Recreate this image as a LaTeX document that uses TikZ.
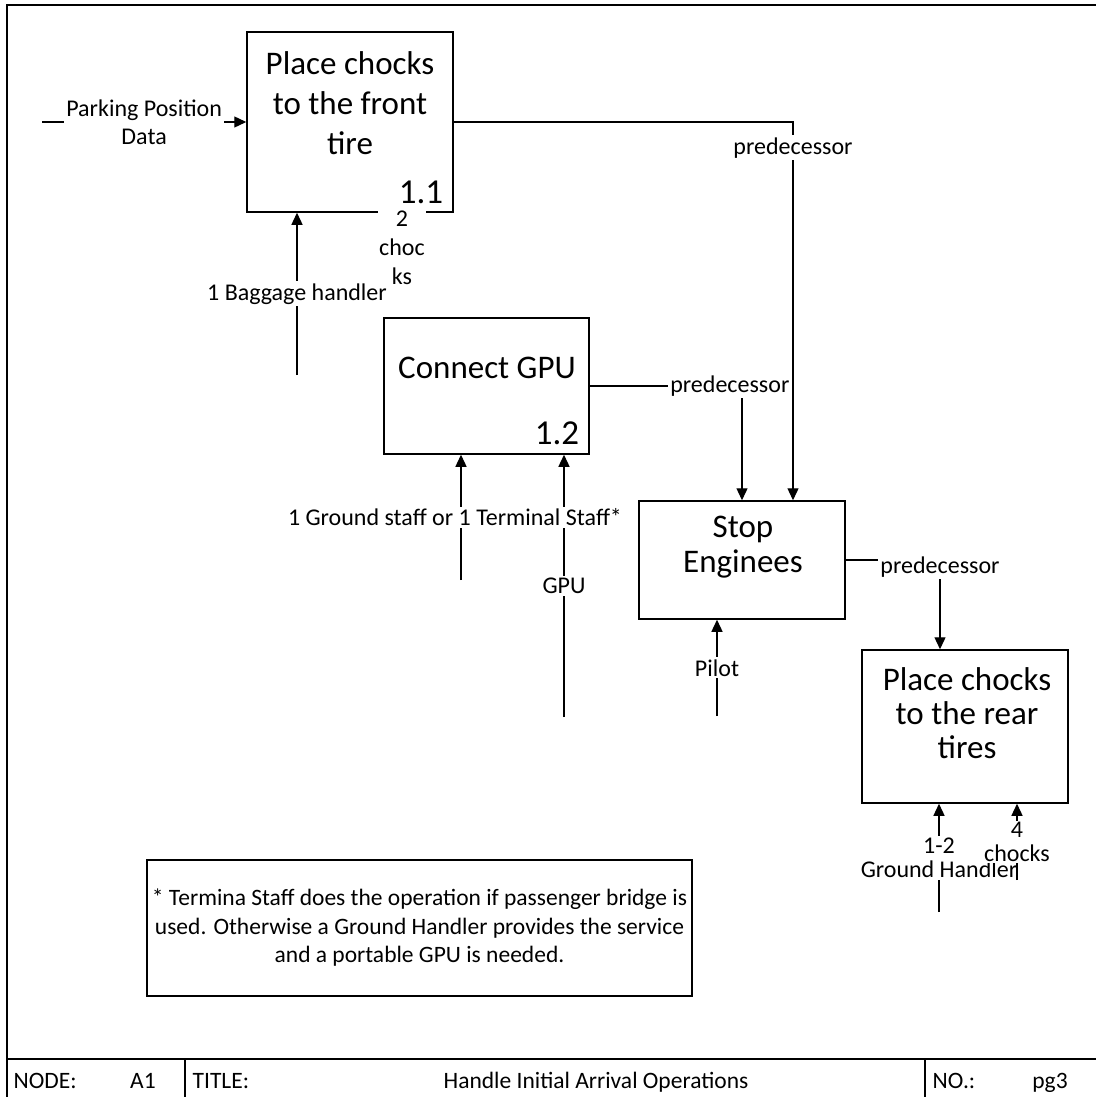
\documentclass[tikz,border=0pt]{standalone}
\usepackage{fontspec}
\setmainfont{Carlito}
\usetikzlibrary{arrows.meta}
\begin{document}
\begin{tikzpicture}[x=1pt, y=-1pt, >={Triangle[length=12pt,width=11pt]}, line width=1.3pt,
        every node/.style={font=\fontsize{24}{28}\selectfont},
        procbox/.style={draw, line width=1.5pt, inner sep=0pt},
        boxtext/.style={align=center, inner sep=0pt, font=\fontsize{33}{40}\selectfont},
        boxnum/.style={anchor=base east, inner sep=0pt, font=\fontsize{35}{35}\selectfont},
        flowlbl/.style={fill=white, align=center, inner sep=2pt},
        footlbl/.style={anchor=base, inner sep=0pt, font=\fontsize{23.5}{28}\selectfont}]
        \useasboundingbox (0,0) rectangle (1095,1097);
        % frame and footer
        \draw (7,5) rectangle (1110,1110);
        \draw (7,1059) -- (1110,1059);
        \draw (185,1059) -- (185,1110);
        \draw (925,1059) -- (925,1110);
        \node[footlbl, anchor=base west] (fnode) at (13,1088) {NODE:};
        \node[footlbl] (fnodeval) at (143,1088) {A1};
        \node[footlbl, anchor=base west] (ftitle) at (192,1088) {TITLE:};
        \node[footlbl] (ftitleval) at (596,1088) {Handle Initial Arrival Operations};
        \node[footlbl, anchor=base west] (fno) at (932,1088) {NO.:};
        \node[footlbl] (fnoval) at (1050,1088) {pg3};
        % activity boxes
        \node[procbox, minimum width=206, minimum height=180] (front) at (350,122) {};
        \node[boxtext] (frontT) at (350,103) {Place chocks\\to the front\\tire};
        \node[boxnum] (frontN) at ([xshift=-10pt,yshift=9pt]front.south east) {1.1};
        \node[procbox, minimum width=205, minimum height=136] (gpu) at (486.5,386) {};
        \node[boxtext] (gpuT) at (487,368) {Connect GPU};
        \node[boxnum] (gpuN) at ([xshift=-10pt,yshift=10pt]gpu.south east) {1.2};
        \node[procbox, minimum width=206, minimum height=118] (stop) at (742,560) {};
        \node[boxtext, font=\fontsize{33}{35}\selectfont] (stopT) at (743,547) {Stop\\Enginees};
        \node[procbox, minimum width=206, minimum height=153] (rear) at (965,726.5) {};
        \node[boxtext, font=\fontsize{33}{34}\selectfont] (rearT) at (967,713) {Place chocks\\to the rear\\tires};
        \node[draw, line width=1.5pt, minimum width=545, minimum height=136, align=center,
            font=\fontsize{23.5}{28.5}\selectfont] (note) at (419.5,928)
            {* Termina Staff does the operation if passenger bridge is\\used. Otherwise a Ground Handler provides the service\\and a portable GPU is needed.};
        % inputs
        \coordinate (parkin) at (42,122);
        \coordinate (bagin) at (297,375);
        \coordinate (gsin) at (461,580);
        \coordinate (gpuin) at (564,717);
        \coordinate (pilotin) at (717,716);
        \coordinate (ghin) at (939,912);
        \coordinate (chin) at (1017,880);
        \draw[->] (parkin) -- node[flowlbl]{Parking Position\\Data} (front);
        \draw[->] (bagin) -- node[flowlbl]{1 Baggage handler} (bagin |- front.south);
        \node[flowlbl, inner sep=1pt, font=\fontsize{24}{29}\selectfont] (chocksA) at (402,248) {2\\choc\\ks};
        \draw[->] (gpuin) -- node[flowlbl]{GPU} (gpuin |- gpu.south);
        \draw[->] (gsin) -- node[flowlbl, xshift=-6pt]{1 Ground staff or 1 Terminal Staff*} (gsin |- gpu.south);
        \draw[->] (pilotin) -- node[flowlbl]{Pilot} (pilotin |- stop.south);
        \draw[->] (ghin) -- node[flowlbl, font=\fontsize{24}{24}\selectfont]{1-2\\Ground Handler} (ghin |- rear.south);
        \draw[->] (chin) -- node[flowlbl, font=\fontsize{24}{24}\selectfont, inner sep=1pt]{4\\chocks} (chin |- rear.south);
        % predecessors
        \draw[->] (front.east) -| node[flowlbl, pos=0.534]{predecessor} ([xshift=51pt]stop.north);
        \draw[->] (gpu.east) -| node[flowlbl, pos=0.46]{predecessor} (stop.north);
        \draw[->] (stop.east) -| node[flowlbl, pos=0.5, yshift=-7pt]{predecessor} ([xshift=-25pt]rear.north);
\end{tikzpicture}
\end{document}
